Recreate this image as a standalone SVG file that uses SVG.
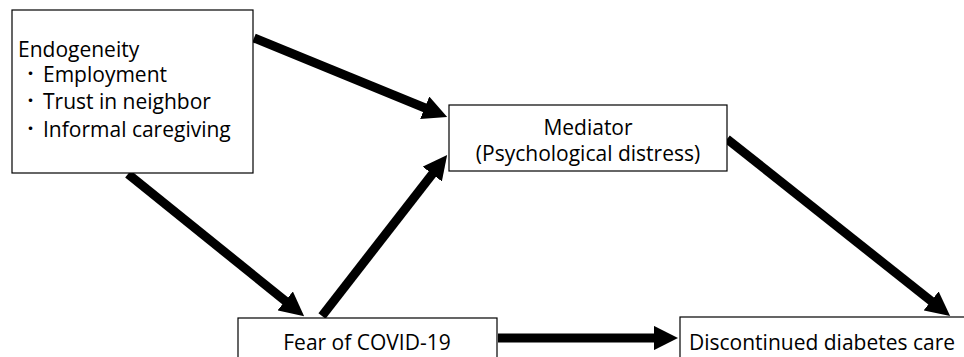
<svg xmlns="http://www.w3.org/2000/svg" width="964" height="357" viewBox="0 0 964 357">
<style>
  .box { fill: #ffffff; stroke: #000000; stroke-width: 1.2; }
  .t { font-family: "Open Sans", "Noto Sans CJK JP", sans-serif; font-size: 21px; fill: #000000; }
  .b { font-family: "Noto Sans CJK JP", sans-serif; font-size: 17px; fill: #000000; }
  .c { text-anchor: middle; }
  .arr { stroke: #000000; stroke-width: 9; fill: none; marker-end: url(#ah); }
</style>
<defs>
  <marker id="ah" viewBox="0 0 10 10" markerWidth="2.7" markerHeight="2.7" refX="4" refY="5" orient="auto" markerUnits="strokeWidth">
    <path d="M0,0 L10,5 L0,10 z" fill="#000000"/>
  </marker>
</defs>
<rect width="964" height="357" fill="#ffffff"/>
<g id="connectors">
  <line class="arr" x1="254" y1="38" x2="433.7" y2="111.5"/>
  <line class="arr" x1="128" y1="174" x2="292.8" y2="307"/>
  <line class="arr" x1="322" y1="316" x2="438.2" y2="166.4"/>
  <line class="arr" x1="498" y1="338" x2="663.6" y2="338"/>
  <line class="arr" x1="727" y1="139" x2="938.7" y2="307"/>
</g>
<g id="endogeneity">
  <rect class="box" x="12" y="10" width="241" height="163"/>
  <text class="t" x="18" y="57">Endogeneity</text>
  <text class="b" x="22" y="80">・</text>
  <text class="t" x="43" y="82">Employment</text>
  <text class="b" x="22" y="107">・</text>
  <text class="t" x="43" y="109">Trust in neighbor</text>
  <text class="b" x="22" y="135">・</text>
  <text class="t" x="43" y="137">Informal caregiving</text>
</g>
<g id="mediator">
  <rect class="box" x="449" y="105" width="278" height="66"/>
  <text class="t c" x="588" y="135">Mediator</text>
  <text class="t c" x="588" y="161">(Psychological distress)</text>
</g>
<g id="fear">
  <rect class="box" x="238" y="318" width="259" height="50"/>
  <text class="t c" x="367" y="350">Fear of COVID-19</text>
</g>
<g id="discontinued">
  <rect class="box" x="680" y="317" width="300" height="50"/>
  <text class="t" x="689" y="350">Discontinued diabetes care</text>
</g>
</svg>
